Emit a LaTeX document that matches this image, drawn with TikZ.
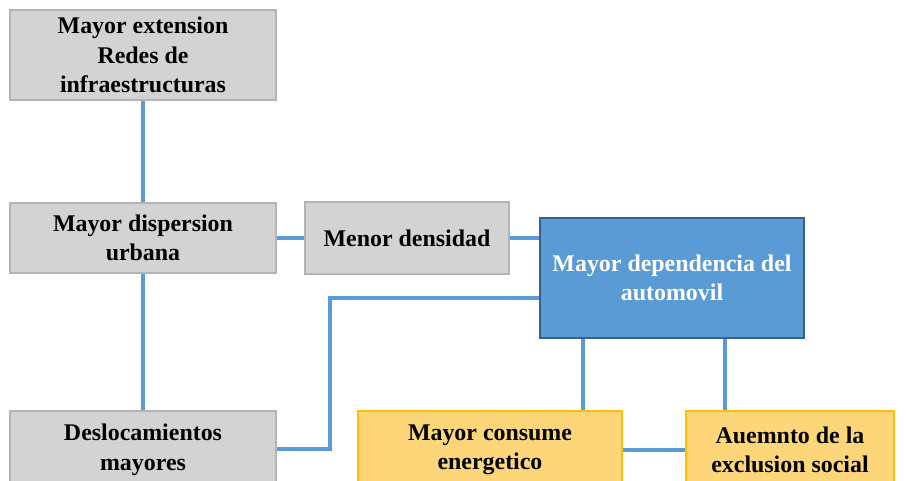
\documentclass[tikz,border=0pt]{standalone}
\usepackage{fontspec}
\setmainfont{Liberation Serif}
\usepackage{xcolor}
\definecolor{grisbox}{RGB}{211,211,211}
\definecolor{grisline}{RGB}{180,180,180}
\definecolor{autobox}{RGB}{91,155,213}
\definecolor{autoline}{RGB}{52,98,145}
\definecolor{consbox}{RGB}{252,214,120}
\definecolor{consline}{RGB}{255,192,0}
\definecolor{link}{RGB}{91,155,213}
\tikzstyle{box}=[draw, align=center, inner sep=2pt, font=\fontsize{17}{21}\selectfont\bfseries]
\tikzset{gray/.style={fill=grisbox, draw=grisline, line width=1.5pt}}
\tikzset{auto/.style={fill=autobox, draw=autoline, line width=2pt, text=white}}
\tikzset{yellow/.style={fill=consbox, draw=consline, line width=2pt}}
\tikzstyle{link}=[line width=2.2pt, color=link]

\begin{document}
\begin{tikzpicture}[x=0.025cm, y=-0.025cm]
  \useasboundingbox (0,0) rectangle (906,480);
  \begin{scope}
  \clip (0,0) rectangle (906,480);
  %% Bends of the links
  \coordinate (bend1) at (330,298);
  \coordinate (bend2) at (330,449);
  \coordinate (drop1) at (583,0);
  \coordinate (drop2) at (725,0);

  \draw (143,55) node[box,gray,minimum width=6.65cm,minimum height=2.27cm] (ext) {Mayor extension\\Redes de\\infraestructuras};
  \draw (143,238) node[box,gray,minimum width=6.65cm,minimum height=1.75cm] (disp) {Mayor dispersion\\urbana};
  \draw (143,450) node[box,gray,minimum width=6.65cm,minimum height=1.95cm] (desl) {Deslocamientos\\mayores};
  \draw (407,238) node[box,gray,minimum width=5.1cm,minimum height=1.8cm] (dens) {Menor densidad};
  \draw (672,278) node[box,auto,minimum width=6.6cm,minimum height=3cm] (auto) {Mayor dependencia del\\automovil};
  \draw (490,450) node[box,yellow,minimum width=6.6cm,minimum height=1.95cm] (cons) {Mayor consume\\energetico};
  \draw (790,450) node[box,yellow,minimum width=5.2cm,minimum height=1.95cm] (excl) {Auemnto de la\\exclusion social};

  \draw[link] (ext) -- (disp);
  \draw[link] (disp) -- (desl);
  \draw[link] (disp.east) -- (dens.west);
  \draw[link] (dens.east) -- (auto.west |- dens.east);
  \draw[link] (auto.west |- bend1) -- (bend1) -- (bend2) -- (desl.east |- bend2);
  \draw[link] (auto.south -| drop1) -- (cons.north -| drop1);
  \draw[link] (auto.south -| drop2) -- (excl.north -| drop2);
  \draw[link] (cons.east) -- (excl.west);
  \end{scope}
\end{tikzpicture}
\end{document}
